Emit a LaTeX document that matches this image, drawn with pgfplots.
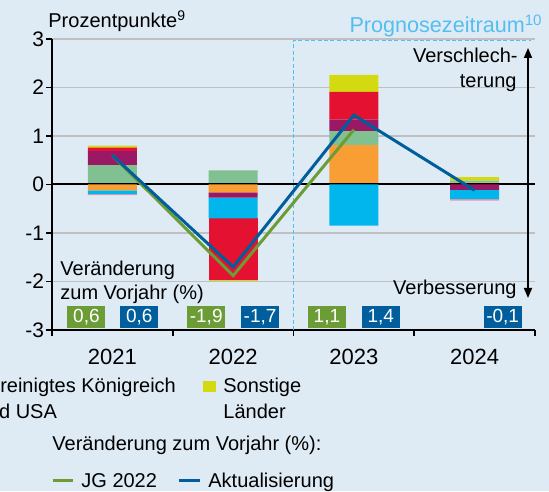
\documentclass[border=0pt]{standalone}
\usepackage{fontspec}
\setmainfont{Liberation Sans}
\usepackage{pgfplots}
\usepackage{pgfplotstable}
\pgfplotsset{compat=1.18}
\usetikzlibrary{arrows.meta}
\definecolor{bgblue}{RGB}{223,235,244}
\definecolor{cO}{RGB}{248,158,52}
\definecolor{cG}{RGB}{128,192,145}
\definecolor{cP}{RGB}{155,25,100}
\definecolor{cC}{RGB}{0,182,236}
\definecolor{cR}{RGB}{228,17,48}
\definecolor{cY}{RGB}{212,218,18}
\definecolor{cK}{RGB}{232,150,180}
\definecolor{lgreen}{RGB}{108,156,54}
\definecolor{lblue}{RGB}{0,94,156}
\definecolor{prog}{RGB}{85,190,240}
\definecolor{gridc}{RGB}{190,192,195}

\pgfplotstableread{
x O G P C R Y K
0 0 0.40 0.29 0 0.07 0.04 0
1 0 0.29 0 0 0 0 0
2 0.81 0.29 0.24 0 0.57 0.35 0
3 0.04 0.04 0 0 0 0.07 0
}\postab
\pgfplotstableread{
x O G P C R Y K
0 -0.12 0 0 -0.08 0 0 -0.02
1 -0.16 0 -0.11 -0.43 -1.27 -0.03 0
2 0 0 0 -0.85 0 0 0
3 0 0 -0.11 -0.19 0 0 -0.03
}\negtab

\pgfplotsset{base/.style={at={(26pt,80.5pt)}, anchor=south west, scale only axis,
  width=241.5pt, height=145.5pt, xmin=-0.5, xmax=3.5, ymin=-3, ymax=3, clip=false}}

\begin{document}
\begin{tikzpicture}[x=0.5pt,y=0.5pt]
\useasboundingbox (0,0) rectangle (549,491);
\fill[bgblue] (0,0) rectangle (549,491);
\begin{scope}
\clip (0,0) rectangle (549,491);

% axis 1: frame, grid, positive contributions
\begin{axis}[base,
  axis x line*=bottom, axis y line*=left,
  axis line style={black, line width=1pt, -},
  ytick={-3,-2,-1,0,1,2,3},
  yticklabels={-3,-2,-1,0,1,2,3},
  xtick={-0.5,0.5,1.5,2.5,3.5},
  x tick label as interval,
  xticklabels={2021,2022,2023,2024},
  tick align=outside, major tick length=3pt,
  tick style={black, line width=0.8pt},
  ymajorgrids, grid style={gridc, line width=0.8pt},
  yticklabel style={font=\fontsize{10.5}{12}\selectfont, xshift=2.5pt},
  xticklabel style={font=\fontsize{11}{13}\selectfont, yshift=-3pt},
  ybar stacked, bar width=24.5pt]
\addplot[fill=cO, draw=none] table[x=x,y=O]{\postab};
\addplot[fill=cG, draw=none] table[x=x,y=G]{\postab};
\addplot[fill=cP, draw=none] table[x=x,y=P]{\postab};
\addplot[fill=cC, draw=none] table[x=x,y=C]{\postab};
\addplot[fill=cR, draw=none] table[x=x,y=R]{\postab};
\addplot[fill=cY, draw=none] table[x=x,y=Y]{\postab};
\addplot[fill=cK, draw=none] table[x=x,y=K]{\postab};
\end{axis}

% axis 2: negative contributions
\begin{axis}[base, hide axis, ybar stacked, bar width=24.5pt]
\addplot[fill=cO, draw=none] table[x=x,y=O]{\negtab};
\addplot[fill=cG, draw=none] table[x=x,y=G]{\negtab};
\addplot[fill=cP, draw=none] table[x=x,y=P]{\negtab};
\addplot[fill=cC, draw=none] table[x=x,y=C]{\negtab};
\addplot[fill=cR, draw=none] table[x=x,y=R]{\negtab};
\addplot[fill=cY, draw=none] table[x=x,y=Y]{\negtab};
\addplot[fill=cK, draw=none] table[x=x,y=K]{\negtab};
\draw[black, line width=1pt] (axis cs:-0.5,0) -- (axis cs:3.5,0);
\draw[prog, line width=0.9pt, dash pattern=on 2pt off 1.2pt] (axis cs:1.5,-3) -- (axis cs:1.5,2.97) -- (axis cs:3.47,2.97);
\end{axis}

% axis 3: lines and labels
\begin{axis}[base, hide axis]
\addplot[lgreen, line width=1.5pt] coordinates {(0,0.6) (1,-1.88) (2,1.13)};
\addplot[lblue, line width=1.5pt] coordinates {(0,0.6) (1,-1.7) (2,1.43) (3,-0.12)};
\tikzset{vbox/.style={text=white, minimum width=19pt, minimum height=10.85pt, inner sep=0pt, font=\fontsize{9.5}{11}\selectfont}}
\node[vbox, fill=lgreen] at (axis cs:-0.215,-2.727) {0,6};
\node[vbox, fill=lblue] at (axis cs:0.223,-2.727) {0,6};
\node[vbox, fill=lgreen] at (axis cs:0.777,-2.727) {-1,9};
\node[vbox, fill=lblue] at (axis cs:1.223,-2.727) {-1,7};
\node[vbox, fill=lgreen] at (axis cs:1.777,-2.727) {1,1};
\node[vbox, fill=lblue] at (axis cs:2.223,-2.727) {1,4};
\node[vbox, fill=lblue] at (axis cs:3.232,-2.727) {-0,1};
\end{axis}

\tikzset{t/.style={font=\fontsize{10}{12}\selectfont, inner sep=0pt}}
\node[t, anchor=base west] at (48,463) {Prozentpunkte\textsuperscript{9}};
\node[t, anchor=base east, text=prog, font=\fontsize{10.8}{13}\selectfont] at (543,458) {Prognosezeitraum\textsuperscript{10}};
\node[t, anchor=base east] at (518,428) {Verschlech-};
\node[t, anchor=base east] at (517,403) {terung};
\node[t, anchor=base east] at (517,196) {Verbesserung};
\draw[black, line width=0.8pt, {Triangle[width=4pt,length=5pt]}-{Triangle[width=4pt,length=5pt]}] (528,193) -- (528,443);
\node[t, anchor=base west] at (60,215) {Veränderung};
\node[t, anchor=base west] at (60,191) {zum Vorjahr (\%)};

% legend (partly cut off at the left edge)
\node[t, anchor=base west] at (-23.5,98) {Vereinigtes Königreich};
\node[t, anchor=base west] at (-23.5,73) {und USA};
\fill[cY] (203,99) rectangle (216,110);
\node[t, anchor=base west] at (223,98) {Sonstige};
\node[t, anchor=base west] at (223,73) {Länder};
\node[t, anchor=base west] at (52,41) {Veränderung zum Vorjahr (\%):};
\draw[lgreen, line width=1.5pt] (53,11) -- (73,11);
\node[t, anchor=base west] at (81,4) {JG 2022};
\draw[lblue, line width=1.5pt] (179,11) -- (200,11);
\node[t, anchor=base west] at (208,4) {Aktualisierung};
\end{scope}
\end{tikzpicture}
\end{document}
